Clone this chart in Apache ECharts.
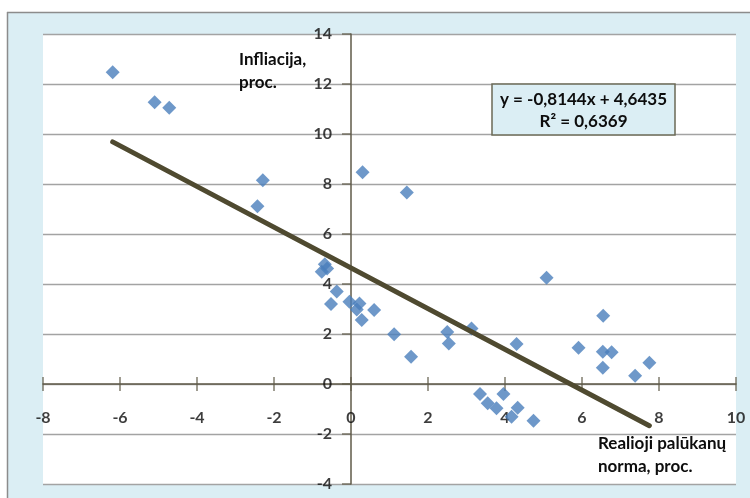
<!DOCTYPE html>
<html>
<head>
<meta charset="utf-8">
<script src="https://cdn.jsdelivr.net/npm/echarts@6/dist/echarts.min.js"></script>
<style>
  html, body { margin:0; padding:0; background:#fff; }
  #chart { position:absolute; left:0; top:0; width:750px; height:498px; }
</style>
</head>
<body>
<div id="chart"></div>
<script>
// Real interest rate, % (x) and inflation, % (y)
const realRate = [-6.19, -5.10, -4.72, -2.29, -2.43, 0.30, 1.45, 5.08,
  -0.68, -0.76, -0.62, -0.37, -0.52, -0.04, 0.22, 0.15, 0.28, 0.60,
  1.12, 1.56, 2.50, 2.54, 3.13, 4.30,
  3.35, 3.96, 3.55, 3.78, 4.33, 4.17, 4.74,
  6.55, 5.91, 6.54, 6.77, 6.54, 7.38, 7.75];
const inflation = [12.47, 11.27, 11.05, 8.15, 7.11, 8.47, 7.66, 4.25,
  4.79, 4.49, 4.62, 3.70, 3.20, 3.29, 3.22, 2.98, 2.56, 2.96,
  1.99, 1.09, 2.08, 1.62, 2.22, 1.60,
  -0.40, -0.40, -0.77, -0.97, -0.95, -1.31, -1.47,
  2.73, 1.45, 1.29, 1.27, 0.65, 0.33, 0.85];
const xTicks = [-8, -6, -4, -2, 0, 2, 4, 6, 8, 10];
const yTicks = [-4, -2, 0, 2, 4, 6, 8, 10, 12, 14];
const trendSlope = -0.8144;
const trendIntercept = 4.6435;
const equationText = 'y = -0,8144x + 4,6435';
const r2Text = 'R² = 0,6369';
const xTitle = ['Realioji palūkanų', 'norma, proc.'];
const yTitle = ['Infliacija,', 'proc.'];

const points = realRate.map((x, i) => [x, inflation[i]]);
const xMin = Math.min(...realRate), xMax = Math.max(...realRate);
const trend = [[xMin, trendSlope * xMin + trendIntercept], [xMax, trendSlope * xMax + trendIntercept]];
const xTickPts = xTicks.map(v => [v, 0]);
const yTickPts = yTicks.map(v => [0, v]);

const FONT = 'Lato';
const axisCol = '#5f5a48';
const labelStyle = { fontFamily: FONT, fontWeight: 'bold', fontSize: 16, color: '#0d0d0d' };
const chart = echarts.init(document.getElementById('chart'));
chart.setOption({
  animation: false,
  backgroundColor: '#dbeef4',
  grid: { left: 43, top: 34, width: 693, height: 450, show: true, backgroundColor: '#ffffff', borderWidth: 0, outerBoundsMode: 'none', containLabel: false },
  xAxis: {
    type: 'value', min: -8, max: 10, interval: 2, position: 'bottom',
    axisLine: { show: true, onZero: true, lineStyle: { color: axisCol, width: 1.5 } },
    axisTick: { show: false },
    axisLabel: { show: false },
    splitLine: { show: false }
  },
  yAxis: {
    type: 'value', min: -4, max: 14, interval: 2, position: 'left',
    axisLine: { show: true, onZero: true, lineStyle: { color: axisCol, width: 1.5 } },
    axisTick: { show: false },
    axisLabel: { show: false },
    splitLine: { show: true, lineStyle: { color: '#a3a3a3', width: 1.3 } }
  },
  series: [{
    // x-axis tick marks (crossing the axis line) with labels
    type: 'scatter', data: xTickPts, symbol: 'rect', symbolSize: [1.5, 14], silent: true, clip: false,
    itemStyle: { color: axisCol }, z: 2,
    label: { show: true, position: 'bottom', distance: 19, formatter: p => String(p.value[0]), ...labelStyle }
  }, {
    // y-axis tick marks (outside, to the left) with labels
    type: 'scatter', data: yTickPts, symbol: 'rect', symbolSize: [9, 1.5], symbolOffset: [-4.5, 0], silent: true, clip: false,
    itemStyle: { color: axisCol }, z: 2,
    label: { show: true, position: 'left', distance: 10, formatter: p => String(p.value[1]), ...labelStyle }
  }, {
    type: 'scatter', data: points, symbol: 'diamond', symbolSize: 14,
    itemStyle: { color: '#4a7ebb' }, z: 3
  }, {
    type: 'line', data: trend, symbol: 'none', z: 4,
    lineStyle: { color: '#4f4a30', width: 5, cap: 'round' }
  }],
  graphic: [
    { type: 'rect', shape: { x: 0, y: 0, width: 750, height: 12 }, style: { fill: '#ffffff' }, z: 1 },
    { type: 'rect', shape: { x: 0, y: 0, width: 7, height: 498 }, style: { fill: '#ffffff' }, z: 1 },
    { type: 'line', shape: { x1: 7, y1: 12.5, x2: 750, y2: 12.5 }, style: { stroke: '#8c8c8c', lineWidth: 1.5 }, z: 2 },
    { type: 'line', shape: { x1: 7.5, y1: 12, x2: 7.5, y2: 498 }, style: { stroke: '#8c8c8c', lineWidth: 1.5 }, z: 2 },
    { type: 'rect', shape: { x: 492, y: 84, width: 183, height: 51 }, style: { fill: '#dbeef4', stroke: '#6b6a55', lineWidth: 1.5 }, z: 10 },
    { type: 'text', x: 583.5, y: 100, style: { text: equationText, font: 'bold 17px ' + FONT, fill: '#0d0d0d', align: 'center', verticalAlign: 'middle' }, z: 11 },
    { type: 'text', x: 583.5, y: 122, style: { text: r2Text, font: 'bold 17px ' + FONT, fill: '#0d0d0d', align: 'center', verticalAlign: 'middle' }, z: 11 },
    { type: 'text', x: 239, y: 60, style: { text: yTitle[0], font: 'bold 17px ' + FONT, fill: '#0d0d0d', verticalAlign: 'middle' }, z: 11 },
    { type: 'text', x: 239, y: 83, style: { text: yTitle[1], font: 'bold 17px ' + FONT, fill: '#0d0d0d', verticalAlign: 'middle' }, z: 11 },
    { type: 'text', x: 598, y: 444, style: { text: xTitle[0], font: 'bold 17px ' + FONT, fill: '#0d0d0d', verticalAlign: 'middle' }, z: 11 },
    { type: 'text', x: 598, y: 467, style: { text: xTitle[1], font: 'bold 17px ' + FONT, fill: '#0d0d0d', verticalAlign: 'middle' }, z: 11 }
  ]
});
</script>
</body>
</html>
